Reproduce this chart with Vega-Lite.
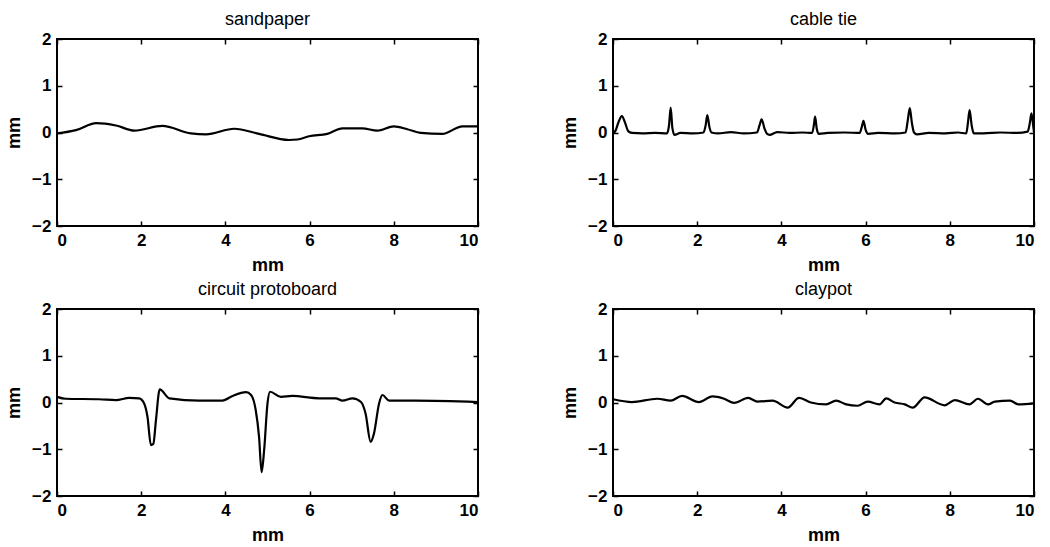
{
  "$schema": "https://vega.github.io/schema/vega-lite/v6.json",
  "background": "white",
  "padding": {"left": 4, "top": 10, "right": 8, "bottom": 4},
  "bounds": "flush",
  "spacing": {"column": 135, "row": 83},
  "config": {
    "font": "Liberation Sans",
    "view": {"stroke": "black", "strokeWidth": 2},
    "title": {"font": "Liberation Sans", "fontSize": 18, "fontWeight": "normal", "color": "black", "offset": 1},
    "axis": {
      "grid": false, "domain": false, "ticks": true, "tickColor": "black", "tickSize": -5, "tickWidth": 1.5,
      "labelFont": "Liberation Sans", "labelFontSize": 17, "labelFontWeight": "bold", "labelColor": "black",
      "titleFont": "Liberation Sans", "titleFontSize": 18, "titleFontWeight": "bold", "titleColor": "black",
      "labelPadding": 11
    }
  },
  "datasets": {
    "sandpaper": [
      {"x": 0, "y": -0.02}, {"x": 0.45, "y": 0.05}, {"x": 0.93, "y": 0.2}, {"x": 1.4, "y": 0.15}, {"x": 1.84, "y": 0.04},
      {"x": 2.5, "y": 0.14}, {"x": 3.18, "y": -0.02}, {"x": 3.54, "y": -0.04}, {"x": 4.21, "y": 0.08}, {"x": 4.8, "y": -0.03},
      {"x": 5.51, "y": -0.16}, {"x": 5.71, "y": -0.15}, {"x": 5.99, "y": -0.08}, {"x": 6.42, "y": -0.03}, {"x": 6.78, "y": 0.09},
      {"x": 7.25, "y": 0.09}, {"x": 7.61, "y": 0.04}, {"x": 8.0, "y": 0.13}, {"x": 8.32, "y": 0.07}, {"x": 8.64, "y": -0.01},
      {"x": 9.15, "y": -0.03}, {"x": 9.63, "y": 0.13}, {"x": 10, "y": 0.13}
    ],
    "cabletie": [
      {"x": 0, "y": -0.02}, {"x": 0.06, "y": 0.04}, {"x": 0.13, "y": 0.22}, {"x": 0.21, "y": 0.35}, {"x": 0.29, "y": 0.2}, {"x": 0.36, "y": 0.03}, {"x": 0.45, "y": -0.01},
      {"x": 0.7, "y": -0.02}, {"x": 1.0, "y": -0.01}, {"x": 1.28, "y": -0.02}, {"x": 1.33, "y": 0.15}, {"x": 1.37, "y": 0.53},
      {"x": 1.41, "y": 0.1}, {"x": 1.46, "y": -0.05}, {"x": 1.6, "y": -0.01}, {"x": 1.9, "y": -0.02}, {"x": 2.15, "y": 0.0},
      {"x": 2.2, "y": 0.15}, {"x": 2.24, "y": 0.37}, {"x": 2.29, "y": 0.12}, {"x": 2.34, "y": 0.0}, {"x": 2.5, "y": -0.02}, {"x": 2.8, "y": 0.01}, {"x": 3.1, "y": -0.02},
      {"x": 3.42, "y": 0.0}, {"x": 3.48, "y": 0.15}, {"x": 3.53, "y": 0.28}, {"x": 3.6, "y": 0.08}, {"x": 3.66, "y": -0.03}, {"x": 3.72, "y": -0.05}, {"x": 3.9, "y": 0.01},
      {"x": 4.2, "y": -0.01}, {"x": 4.5, "y": 0.0}, {"x": 4.73, "y": -0.01}, {"x": 4.77, "y": 0.15}, {"x": 4.8, "y": 0.34}, {"x": 4.84, "y": 0.08}, {"x": 4.89, "y": -0.03},
      {"x": 5.1, "y": -0.01}, {"x": 5.5, "y": 0.0}, {"x": 5.86, "y": -0.01}, {"x": 5.91, "y": 0.12}, {"x": 5.95, "y": 0.25}, {"x": 6.0, "y": 0.06}, {"x": 6.06, "y": -0.03},
      {"x": 6.3, "y": -0.01}, {"x": 6.7, "y": -0.02}, {"x": 6.95, "y": 0.0}, {"x": 7.0, "y": 0.25}, {"x": 7.05, "y": 0.52}, {"x": 7.1, "y": 0.2}, {"x": 7.15, "y": 0.0},
      {"x": 7.22, "y": -0.04}, {"x": 7.5, "y": -0.01}, {"x": 7.9, "y": -0.02}, {"x": 8.2, "y": 0.0}, {"x": 8.39, "y": -0.02},
      {"x": 8.43, "y": 0.2}, {"x": 8.47, "y": 0.48}, {"x": 8.52, "y": 0.15}, {"x": 8.57, "y": -0.02}, {"x": 8.8, "y": -0.02}, {"x": 9.2, "y": 0.0}, {"x": 9.6, "y": -0.01},
      {"x": 9.85, "y": 0.02}, {"x": 9.9, "y": 0.2}, {"x": 9.94, "y": 0.41}, {"x": 9.98, "y": 0.15}, {"x": 10, "y": 0.0}
    ],
    "circuit": [
      {"x": 0, "y": 0.12}, {"x": 0.2, "y": 0.08}, {"x": 1.0, "y": 0.07}, {"x": 1.4, "y": 0.05}, {"x": 1.72, "y": 0.1},
      {"x": 1.95, "y": 0.09}, {"x": 2.07, "y": -0.02}, {"x": 2.15, "y": -0.31}, {"x": 2.23, "y": -0.91}, {"x": 2.29, "y": -0.88},
      {"x": 2.35, "y": -0.38}, {"x": 2.44, "y": 0.28}, {"x": 2.67, "y": 0.09}, {"x": 3.38, "y": 0.04}, {"x": 3.93, "y": 0.04},
      {"x": 4.17, "y": 0.14}, {"x": 4.49, "y": 0.22}, {"x": 4.61, "y": 0.16}, {"x": 4.72, "y": -0.16}, {"x": 4.8, "y": -0.74},
      {"x": 4.86, "y": -1.49}, {"x": 4.92, "y": -1.02}, {"x": 5.0, "y": -0.02}, {"x": 5.06, "y": 0.23}, {"x": 5.32, "y": 0.12},
      {"x": 5.59, "y": 0.14}, {"x": 6.23, "y": 0.09}, {"x": 6.62, "y": 0.09}, {"x": 6.78, "y": 0.04}, {"x": 7.02, "y": 0.09},
      {"x": 7.22, "y": 0.01}, {"x": 7.33, "y": -0.24}, {"x": 7.45, "y": -0.84}, {"x": 7.53, "y": -0.66}, {"x": 7.65, "y": -0.02},
      {"x": 7.73, "y": 0.16}, {"x": 7.89, "y": 0.04}, {"x": 8.52, "y": 0.04}, {"x": 10, "y": 0.01}
    ],
    "claypot": [
      {"x": 0, "y": 0.07}, {"x": 0.45, "y": 0.01}, {"x": 1.05, "y": 0.08}, {"x": 1.37, "y": 0.04}, {"x": 1.64, "y": 0.14},
      {"x": 2.04, "y": 0.01}, {"x": 2.36, "y": 0.13}, {"x": 2.64, "y": 0.08}, {"x": 2.88, "y": -0.01}, {"x": 3.21, "y": 0.1},
      {"x": 3.43, "y": 0.02}, {"x": 3.79, "y": 0.04}, {"x": 4.15, "y": -0.11}, {"x": 4.42, "y": 0.1}, {"x": 4.7, "y": 0.0},
      {"x": 5.06, "y": -0.04}, {"x": 5.3, "y": 0.04}, {"x": 5.54, "y": -0.04}, {"x": 5.81, "y": -0.07}, {"x": 6.05, "y": 0.02},
      {"x": 6.33, "y": -0.04}, {"x": 6.49, "y": 0.09}, {"x": 6.69, "y": 0.0}, {"x": 6.93, "y": -0.04}, {"x": 7.12, "y": -0.11},
      {"x": 7.4, "y": 0.11}, {"x": 7.88, "y": -0.06}, {"x": 8.12, "y": 0.05}, {"x": 8.47, "y": -0.04}, {"x": 8.67, "y": 0.08},
      {"x": 8.91, "y": -0.04}, {"x": 9.07, "y": 0.02}, {"x": 9.43, "y": 0.04}, {"x": 9.63, "y": -0.04}, {"x": 10, "y": -0.02}
    ]
  },
  "columns": 2,
  "concat": [
    {
      "title": "sandpaper", "width": 421, "height": 187, "data": {"name": "sandpaper"},
      "layer": [
        {"mark": {"type": "line", "color": "black", "strokeWidth": 2.2, "interpolate": "monotone"},
         "encoding": {
           "x": {"field": "x", "type": "quantitative", "scale": {"domain": [0, 10], "nice": false}, "axis": {"orient": "bottom", "title": "mm", "values": [0, 2, 4, 6, 8, 10], "titlePadding": 8}},
           "y": {"field": "y", "type": "quantitative", "scale": {"domain": [-2, 2], "nice": false}, "axis": {"orient": "left", "title": "mm", "values": [-2, -1, 0, 1, 2], "titlePadding": 8}}}},
        {"mark": {"type": "line", "opacity": 0},
         "encoding": {
           "x": {"field": "x", "type": "quantitative", "axis": {"orient": "top", "title": null, "labels": false, "values": [0, 2, 4, 6, 8, 10]}},
           "y": {"field": "y", "type": "quantitative", "axis": {"orient": "right", "title": null, "labels": false, "values": [-2, -1, 0, 1, 2]}}}}
      ],
      "resolve": {"axis": {"x": "independent", "y": "independent"}}
    },
    {
      "title": "cable tie", "width": 421, "height": 187, "data": {"name": "cabletie"},
      "layer": [
        {"mark": {"type": "line", "color": "black", "strokeWidth": 2.2, "interpolate": "monotone"},
         "encoding": {
           "x": {"field": "x", "type": "quantitative", "scale": {"domain": [0, 10], "nice": false}, "axis": {"orient": "bottom", "title": "mm", "values": [0, 2, 4, 6, 8, 10], "titlePadding": 8}},
           "y": {"field": "y", "type": "quantitative", "scale": {"domain": [-2, 2], "nice": false}, "axis": {"orient": "left", "title": "mm", "values": [-2, -1, 0, 1, 2], "titlePadding": 8}}}},
        {"mark": {"type": "line", "opacity": 0},
         "encoding": {
           "x": {"field": "x", "type": "quantitative", "axis": {"orient": "top", "title": null, "labels": false, "values": [0, 2, 4, 6, 8, 10]}},
           "y": {"field": "y", "type": "quantitative", "axis": {"orient": "right", "title": null, "labels": false, "values": [-2, -1, 0, 1, 2]}}}}
      ],
      "resolve": {"axis": {"x": "independent", "y": "independent"}}
    },
    {
      "title": "circuit protoboard", "width": 421, "height": 187, "data": {"name": "circuit"},
      "layer": [
        {"mark": {"type": "line", "color": "black", "strokeWidth": 2.2, "interpolate": "monotone"},
         "encoding": {
           "x": {"field": "x", "type": "quantitative", "scale": {"domain": [0, 10], "nice": false}, "axis": {"orient": "bottom", "title": "mm", "values": [0, 2, 4, 6, 8, 10], "titlePadding": 8}},
           "y": {"field": "y", "type": "quantitative", "scale": {"domain": [-2, 2], "nice": false}, "axis": {"orient": "left", "title": "mm", "values": [-2, -1, 0, 1, 2], "titlePadding": 8}}}},
        {"mark": {"type": "line", "opacity": 0},
         "encoding": {
           "x": {"field": "x", "type": "quantitative", "axis": {"orient": "top", "title": null, "labels": false, "values": [0, 2, 4, 6, 8, 10]}},
           "y": {"field": "y", "type": "quantitative", "axis": {"orient": "right", "title": null, "labels": false, "values": [-2, -1, 0, 1, 2]}}}}
      ],
      "resolve": {"axis": {"x": "independent", "y": "independent"}}
    },
    {
      "title": "claypot", "width": 421, "height": 187, "data": {"name": "claypot"},
      "layer": [
        {"mark": {"type": "line", "color": "black", "strokeWidth": 2.2, "interpolate": "monotone"},
         "encoding": {
           "x": {"field": "x", "type": "quantitative", "scale": {"domain": [0, 10], "nice": false}, "axis": {"orient": "bottom", "title": "mm", "values": [0, 2, 4, 6, 8, 10], "titlePadding": 8}},
           "y": {"field": "y", "type": "quantitative", "scale": {"domain": [-2, 2], "nice": false}, "axis": {"orient": "left", "title": "mm", "values": [-2, -1, 0, 1, 2], "titlePadding": 8}}}},
        {"mark": {"type": "line", "opacity": 0},
         "encoding": {
           "x": {"field": "x", "type": "quantitative", "axis": {"orient": "top", "title": null, "labels": false, "values": [0, 2, 4, 6, 8, 10]}},
           "y": {"field": "y", "type": "quantitative", "axis": {"orient": "right", "title": null, "labels": false, "values": [-2, -1, 0, 1, 2]}}}}
      ],
      "resolve": {"axis": {"x": "independent", "y": "independent"}}
    }
  ]
}
